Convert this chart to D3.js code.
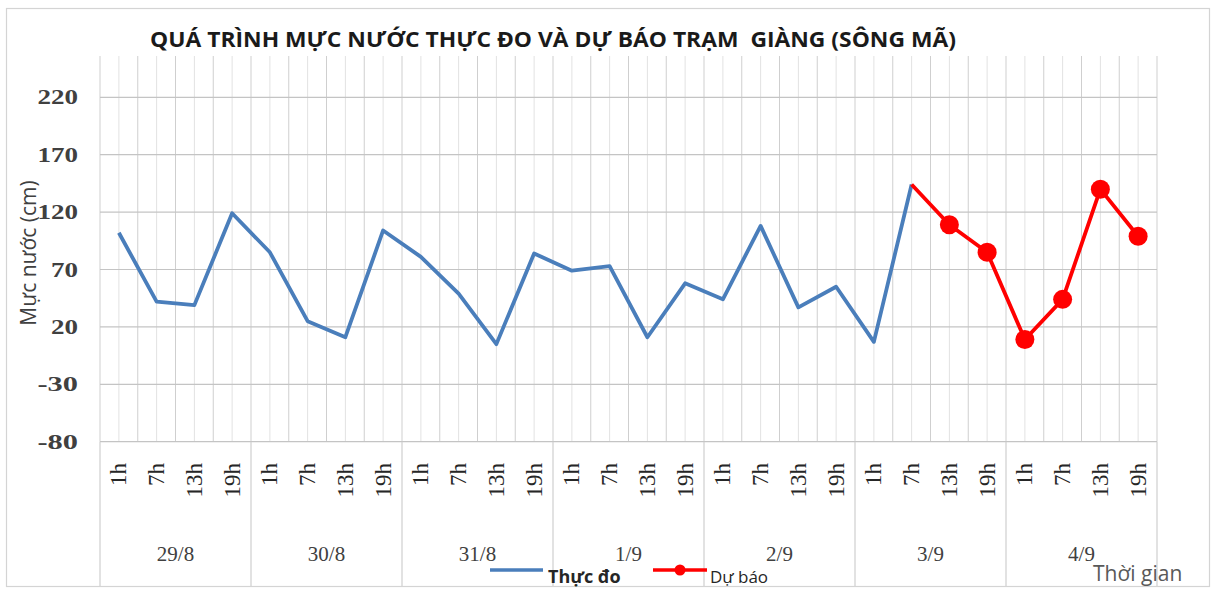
<!DOCTYPE html>
<html><head><meta charset="utf-8">
<script src="https://cdn.jsdelivr.net/npm/d3@7"></script>
<style>
html,body{margin:0;padding:0;background:#fff;}
svg{display:block;}
</style></head>
<body>
<svg id="c" width="1212" height="589"></svg>
<script>
const hours = ["1h","7h","13h","19h"];
const days = ["29/8","30/8","31/8","1/9","2/9","3/9","4/9"];
const measured = [102,42,39,119, 85,25,11,104, 81,49,5,84, 69,73,11,58, 44,108,37,55, 7,144,null,null, null,null,null,null];
const forecast = [null,null,null,null, null,null,null,null, null,null,null,null, null,null,null,null, null,null,null,null, null,144,109,85, 9,44,140,99];
const yTicks = [-80,-30,20,70,120,170,220];
const seriesNames = ["Thực đo","Dự báo"];
const seriesColors = ["#4a7ebb","#ff0000"];
const titleText = "QUÁ TRÌNH MỰC NƯỚC THỰC ĐO VÀ DỰ BÁO TRẠM  GIÀNG (SÔNG MÃ)";
const yTitle = "Mực nước (cm)";
const xTitle = "Thời gian";

const svg = d3.select("#c");
const L = 100, R = 1157, T = 56, B = 441.7;
const cats = [];
days.forEach(d => hours.forEach(h => cats.push(d + "|" + h)));

const x = d3.scaleBand().domain(cats).range([L, R]).padding(0);
const bw = x.bandwidth();
const cx = i => x(cats[i]) + bw / 2;
const y = d3.scaleLinear().domain([-80, 256]).range([B, T]);

// outer border
svg.append("rect").attr("x", 6.5).attr("y", 8.5).attr("width", 1203).attr("height", 578)
  .attr("fill", "#fff").attr("stroke", "#d4d4d4").attr("stroke-width", 1.2);

// vertical gridlines (category boundaries and centres)
const g = svg.append("g");
d3.range(0, cats.length * 2 + 1).forEach(k => {
  const xx = L + k * bw / 2;
  g.append("line").attr("x1", xx).attr("x2", xx).attr("y1", T).attr("y2", B)
    .attr("stroke", k % 2 === 0 ? "#cfcfcf" : "#e2e2e2").attr("stroke-width", 1);
});
// horizontal gridlines
g.selectAll("line.h").data(yTicks).join("line").attr("class", "h")
  .attr("x1", L).attr("x2", R).attr("y1", d => y(d)).attr("y2", d => y(d))
  .attr("stroke", "#c4c4c4").attr("stroke-width", 1.2);

// y axis labels
svg.append("g").selectAll("text").data(yTicks).join("text")
  .attr("x", 78).attr("y", d => y(d)).attr("dy", "0.35em")
  .attr("text-anchor", "end")
  .attr("font-family", "Liberation Serif").attr("font-size", 20).attr("font-weight", "bold")
  .attr("fill", "#404040")
  .attr("textLength", d => String(d).length * 13.5).attr("lengthAdjust", "spacingAndGlyphs")
  .text(d => d);

// y title
svg.append("text").attr("transform", "translate(36,253) rotate(-90)")
  .attr("text-anchor", "middle").attr("font-family", "Open Sans").attr("font-size", 21)
  .attr("fill", "#404040").text(yTitle);

// x axis: day separators
d3.range(0, days.length + 1).forEach(k => {
  const xx = L + k * 4 * bw;
  svg.append("line").attr("x1", xx).attr("x2", xx).attr("y1", B).attr("y2", 586)
    .attr("stroke", "#cfcfcf").attr("stroke-width", 1.2);
});
// hour labels
svg.append("g").selectAll("text").data(cats).join("text")
  .attr("transform", (d, i) => `translate(${cx(i)},463) rotate(-90)`)
  .attr("dy", "0.33em").attr("text-anchor", "end")
  .attr("font-family", "Liberation Serif").attr("font-size", 23)
  .attr("fill", "#262626")
  .text(d => d.split("|")[1]);
// day labels
svg.append("g").selectAll("text").data(days).join("text")
  .attr("x", (d, i) => L + (i * 4 + 2) * bw).attr("y", 561)
  .attr("text-anchor", "middle")
  .attr("font-family", "Liberation Serif").attr("font-size", 21)
  .attr("fill", "#404040").text(d => d);

// lines
const line = d3.line().defined(d => d.v != null).x(d => cx(d.i)).y(d => y(d.v));
const mData = measured.map((v, i) => ({ i, v }));
const fData = forecast.map((v, i) => ({ i, v }));
svg.append("path").datum(mData).attr("d", line).attr("fill", "none")
  .attr("stroke", seriesColors[0]).attr("stroke-width", 3.8).attr("stroke-linejoin", "round");
svg.append("path").datum(fData).attr("d", line).attr("fill", "none")
  .attr("stroke", seriesColors[1]).attr("stroke-width", 3.8).attr("stroke-linejoin", "round");
svg.append("g").selectAll("circle")
  .data(fData.filter(d => d.v != null && measured[d.i] == null))
  .join("circle").attr("cx", d => cx(d.i)).attr("cy", d => y(d.v)).attr("r", 9.5)
  .attr("fill", seriesColors[1]);

// title
svg.append("text").attr("x", 553).attr("y", 47).attr("text-anchor", "middle")
  .attr("font-family", "Open Sans").attr("font-weight", "bold").attr("font-size", 21)
  .attr("fill", "#1a1a1a").attr("textLength", 806).attr("lengthAdjust", "spacingAndGlyphs")
  .attr("xml:space", "preserve").style("white-space", "pre")
  .text(titleText);

// legend
const lg = svg.append("g");
lg.append("line").attr("x1", 490).attr("x2", 543).attr("y1", 570).attr("y2", 570)
  .attr("stroke", seriesColors[0]).attr("stroke-width", 3.6);
lg.append("text").attr("x", 548).attr("y", 583).attr("font-family", "Open Sans")
  .attr("font-weight", "bold").attr("font-size", 18).attr("fill", "#262626").text(seriesNames[0]);
lg.append("line").attr("x1", 653).attr("x2", 707).attr("y1", 570).attr("y2", 570)
  .attr("stroke", seriesColors[1]).attr("stroke-width", 3.6);
lg.append("circle").attr("cx", 680).attr("cy", 570).attr("r", 5.5).attr("fill", seriesColors[1]);
lg.append("text").attr("x", 710).attr("y", 583).attr("font-family", "Open Sans")
  .attr("font-size", 17).attr("fill", "#262626").text(seriesNames[1]);

// x title
svg.append("text").attr("x", 1093).attr("y", 581).attr("font-family", "Open Sans")
  .attr("font-size", 21).attr("fill", "#595959").text(xTitle);
</script>
</body></html>
